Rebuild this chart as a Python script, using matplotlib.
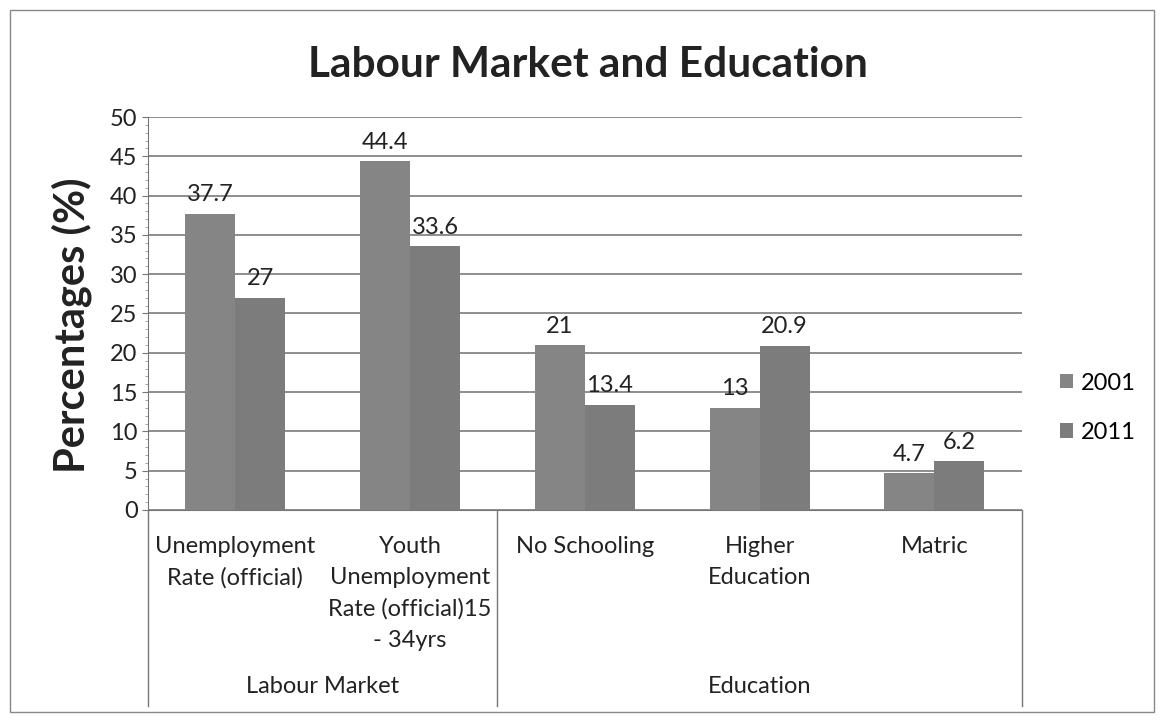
import matplotlib.pyplot as plt
import matplotlib.transforms as mtransforms
import numpy as np

plt.rcParams['font.family'] = ['Lato', 'DejaVu Sans']

categories = ['Unemployment\nRate (official)',
              'Youth\nUnemployment\nRate (official)15\n- 34yrs',
              'No Schooling', 'Higher\nEducation', 'Matric']
groups = ['Labour Market', 'Education']
group_spans = [(-0.5, 1.5), (1.5, 4.5)]
vals_2001 = [37.7, 44.4, 21, 13, 4.7]
vals_2011 = [27, 33.6, 13.4, 20.9, 6.2]
series = ['2001', '2011']

fig = plt.figure(figsize=(11.61, 7.25), dpi=100)
ax = fig.add_axes([0.1275, 0.2966, 0.7525, 0.542])

x = np.arange(len(categories))
w = 0.286
b1 = ax.bar(x - w / 2, vals_2001, w, color='#858585', label=series[0], zorder=3)
b2 = ax.bar(x + w / 2, vals_2011, w, color='#7c7c7c', label=series[1], zorder=3)

for bars, vals in ((b1, vals_2001), (b2, vals_2011)):
    for r, v in zip(bars, vals):
        ax.annotate(f'{v:g}', (r.get_x() + r.get_width() / 2, v),
                    xytext=(0, 6), textcoords='offset points',
                    ha='center', va='bottom', fontsize=17, color='#222222')

ax.set_xlim(-0.5, 4.5)
ax.set_ylim(0, 50)
ax.set_yticks(range(0, 51, 5))
ax.set_yticks(np.arange(0, 50, 1), minor=True)
ax.tick_params(axis='y', labelsize=17, length=4, color='#777777', labelcolor='#222222')
ax.tick_params(axis='y', which='minor', length=2, color='#999999')
ax.set_xticks([])
ax.grid(axis='y', color='#7a7a7a', linewidth=1.2, zorder=0)
for s in ['top', 'right']:
    ax.spines[s].set_visible(False)
ax.spines['left'].set_color('#777777')
ax.spines['bottom'].set_color('#777777')

ax.set_ylabel('Percentages (%)', fontsize=30, fontweight='bold', color='#222222')
ax.yaxis.set_label_coords(-0.064, 0.47)
fig.text(0.506, 0.91, 'Labour Market and Education', ha='center', va='center',
         fontsize=30.5, fontweight='bold', color='#222222')

# category and group labels under the axis
trans = mtransforms.blended_transform_factory(ax.transData, ax.transAxes)
for xi, lab in zip(x, categories):
    ax.text(xi, -0.065, lab, transform=trans, ha='center', va='top',
            fontsize=17, color='#222222', linespacing=1.6)
for g, (lo, hi) in zip(groups, group_spans):
    ax.text((lo + hi) / 2, -0.45, g, transform=trans, ha='center', va='center',
            fontsize=17, color='#222222')
for xs in [-0.5, 1.5, 4.5]:
    ax.plot([xs, xs], [0, -0.5], transform=trans, color='#777777',
            linewidth=1, clip_on=False)

ax.legend(loc='center left', bbox_to_anchor=(1.02, 0.26), frameon=False,
          fontsize=17, handlelength=0.55, handleheight=0.55, labelspacing=1.2,
          handletextpad=0.3)

# outer chart border
fig.patches.append(plt.Rectangle((0.009, 0.018), 0.985, 0.968, transform=fig.transFigure,
                                 fill=False, edgecolor='#888888', linewidth=1))

fig.savefig('out.png', dpi=100)
